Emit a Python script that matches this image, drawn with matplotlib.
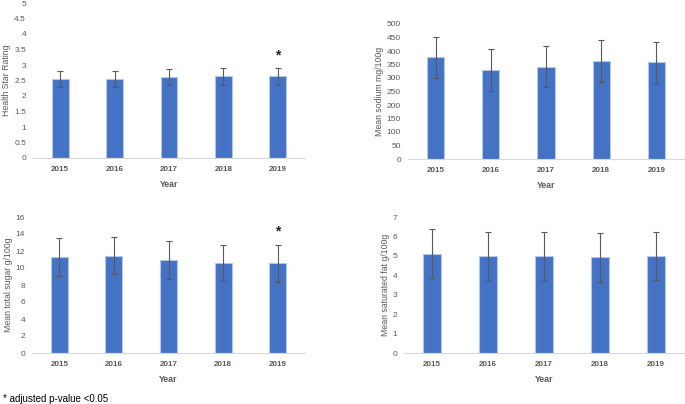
import matplotlib.pyplot as plt

years = ["2015", "2016", "2017", "2018", "2019"]

hsr = [2.55, 2.55, 2.61, 2.63, 2.64]
hsr_err = [0.27, 0.27, 0.27, 0.26, 0.27]

sodium = [376, 330, 342, 364, 359]
sodium_err = [77, 78, 77, 77, 76]

sugar = [11.3, 11.45, 10.95, 10.6, 10.55]
sugar_err = [2.2, 2.2, 2.2, 2.15, 2.2]

satfat = [5.12, 4.97, 4.97, 4.92, 5.0]
satfat_err = [1.24, 1.24, 1.24, 1.24, 1.25]

BAR = "#4472C4"
TXT = "#595959"

plt.rcParams['font.family'] = ['Liberation Sans', 'DejaVu Sans']

W, H = 685, 404
fig = plt.figure(figsize=(W / 100, H / 100), dpi=100)


def panel(px_left, px_right, px_top, px_bottom, vals, errs, ymax, step, ylabel,
          star=None, fmt="{:g}"):
    ax = fig.add_axes([px_left / W, 1 - px_bottom / H,
                       (px_right - px_left) / W, (px_bottom - px_top) / H])
    x = range(len(years))
    ax.bar(x, vals, width=0.31, color=BAR, edgecolor="#B4C7E7", linewidth=0.8,
           zorder=2)
    ax.errorbar(x, vals, yerr=errs, fmt="none", ecolor=TXT, elinewidth=0.8,
                capsize=2, capthick=0.8, zorder=3)
    ax.set_xlim(-0.5, len(years) - 0.5)
    ax.set_ylim(0, ymax)
    ticks = [i * step for i in range(int(round(ymax / step)) + 1)]
    ax.set_yticks(ticks)
    ax.set_yticklabels([fmt.format(t) for t in ticks], fontsize=6, color=TXT)
    ax.set_xticks(list(x))
    ax.set_xticklabels(years, fontsize=5.8, color=TXT, fontweight="bold")
    ax.tick_params(axis="y", length=0, pad=5)
    ax.tick_params(axis="x", length=0, pad=6)
    for s in ["top", "right", "left"]:
        ax.spines[s].set_visible(False)
    ax.spines["bottom"].set_color("#D9D9D9")
    ax.spines["bottom"].set_linewidth(0.8)
    ax.set_xlabel("Year", fontsize=6.3, color=TXT, fontweight="bold", labelpad=5)
    ax.set_ylabel(ylabel, fontsize=6.3, color=TXT, labelpad=2)
    ax.patch.set_alpha(0)
    if star is not None:
        ax.text(4, star, "*", ha="center", va="center", fontsize=10,
                fontweight="bold", color="#222222")
    return ax


panel(33, 305, 3, 158, hsr, hsr_err, 5, 0.5, "Health Star Rating", star=3.3)
panel(408, 684, 24, 159, sodium, sodium_err, 500, 50, "Mean sodium mg/100g")
panel(32, 305, 217, 353, sugar, sugar_err, 16, 2, "Mean total sugar g/100g",
      star=14.3)
panel(404, 684, 217, 353, satfat, satfat_err, 7, 1, "Mean saturated fat g/100g")

fig.text(3 / W, 1 - 399 / H, "* adjusted p-value <0.05", fontsize=7,
         color="black", va="center", ha="left")

fig.savefig("out.png", dpi=100)
